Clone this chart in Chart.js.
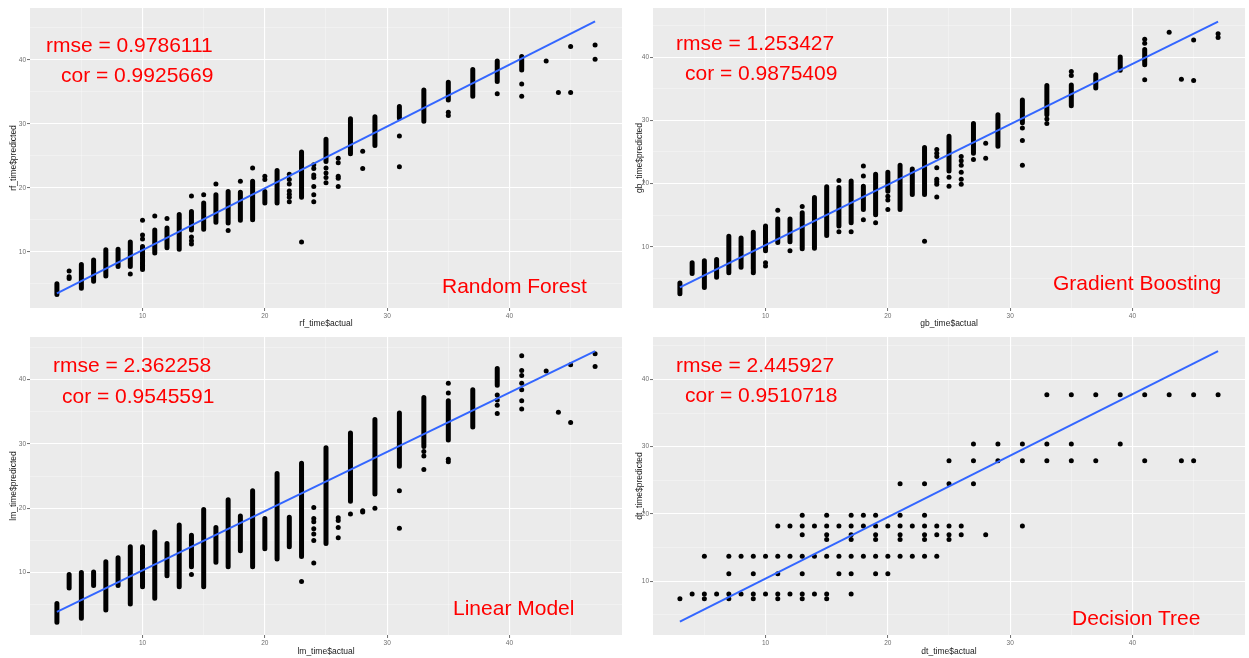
<!DOCTYPE html>
<html lang="en">
<head>
<meta charset="UTF-8" />
<title>Actual vs predicted time</title>
<script src="https://cdn.jsdelivr.net/npm/chart.js"></script>
<style>
  body { margin: 0; background: #fff; width: 1249px; height: 658px; position: relative; overflow: hidden;
         font-family: "Liberation Sans", Arial, sans-serif; }
  canvas { position: absolute; }
  .note { position: absolute; color: #ff0000; font-size: 21px; line-height: 21px; white-space: nowrap; }
</style>
</head>
<body>
<canvas id="rf" width="626" height="330" style="left:0;top:0"></canvas>
<canvas id="gb" width="623" height="330" style="left:626px;top:0"></canvas>
<canvas id="lm" width="626" height="328" style="left:0;top:330px"></canvas>
<canvas id="dt" width="623" height="328" style="left:626px;top:330px"></canvas>

<div class="note" style="left:46px;top:34px">rmse = 0.9786111</div>
<div class="note" style="left:61px;top:64px">cor = 0.9925669</div>
<div class="note" style="left:442px;top:275px">Random Forest</div>

<div class="note" style="left:676px;top:32px">rmse = 1.253427</div>
<div class="note" style="left:685px;top:62px">cor = 0.9875409</div>
<div class="note" style="left:1053px;top:272px">Gradient Boosting</div>

<div class="note" style="left:53px;top:354px">rmse = 2.362258</div>
<div class="note" style="left:62px;top:385px">cor = 0.9545591</div>
<div class="note" style="left:453px;top:597px">Linear Model</div>

<div class="note" style="left:676px;top:354px">rmse = 2.445927</div>
<div class="note" style="left:685px;top:384px">cor = 0.9510718</div>
<div class="note" style="left:1072px;top:607px">Decision Tree</div>

<script>
  // tick positions (labels only on multiples of 10)
  const xTicks = [5, 10, 15, 20, 25, 30, 35, 40, 45];
  const yTicks = [5, 10, 15, 20, 25, 30, 35, 40, 45];

  // dense columns of points: [actual, lowest predicted, highest predicted]
  // single points: [actual, predicted]
  // fit: the two ends of the blue smooth line

  // Random Forest
  const rfRuns = [
    [3, 3.3, 5.0], [5, 4.3, 8.0], [6, 5.4, 8.7], [7, 6.2, 10.3], [8, 7.7, 10.4],
    [9, 7.7, 11.5], [10, 7.2, 10.8], [11, 9.8, 13.4], [12, 10.6, 13.7], [13, 10.4, 15.8],
    [14, 13.4, 16.3], [15, 13.5, 17.6], [16, 14.6, 18.9], [17, 14.5, 19.4], [18, 14.9, 19.3],
    [19, 15.0, 21.0], [20, 17.6, 19.4], [21, 17.6, 22.7], [23, 18.5, 25.6], [25, 24.1, 27.6],
    [27, 25.3, 30.8], [29, 26.6, 31.1], [31, 30.9, 32.7], [33, 30.4, 35.3], [35, 33.7, 36.5],
    [37, 34.3, 38.5], [39, 36.6, 39.8], [41, 38.4, 40.5]
  ];
  const rfPoints = [
    [4, 7.0], [4, 6.1], [4, 5.8], [9, 6.5], [10, 14.9], [10, 12.6], [10, 12.0], [11, 15.6],
    [12, 15.2], [14, 18.7], [14, 12.3], [14, 11.7], [14, 11.2], [15, 18.9], [16, 20.6],
    [17, 13.3], [18, 21.0], [19, 23.1], [20, 21.8], [20, 21.3], [22, 22.1], [22, 21.3],
    [22, 20.6], [22, 19.5], [22, 19.0], [22, 18.5], [22, 17.8], [23, 11.5], [24, 23.6],
    [24, 23.0], [24, 22.0], [24, 21.6], [24, 20.2], [24, 18.9], [24, 17.8], [25, 23.1],
    [25, 22.3], [25, 21.6], [25, 20.8], [26, 24.6], [26, 23.9], [26, 21.8], [26, 21.5],
    [26, 20.2], [28, 25.7], [28, 23.0], [31, 28.1], [31, 23.3], [35, 31.8], [35, 31.3],
    [39, 34.7], [41, 36.2], [41, 34.3], [43, 39.8], [44, 34.9], [45, 42.1], [45, 34.9],
    [47, 42.3], [47, 40.1]
  ];
  const rfFit = [[3, 3.5], [47, 46.0]];

  // Gradient Boosting
  const gbRuns = [
    [3, 2.6, 4.3], [4, 5.8, 7.5], [5, 3.6, 7.8], [6, 5.2, 8.0], [7, 5.9, 11.7],
    [8, 6.8, 11.4], [9, 6.5, 12.3], [10, 9.4, 13.3], [11, 10.7, 14.4], [12, 10.8, 14.4],
    [13, 9.7, 15.4], [14, 9.8, 17.8], [15, 11.8, 19.5], [16, 13.3, 19.4], [17, 13.8, 20.4],
    [18, 15.9, 19.6], [19, 15.1, 21.5], [20, 18.8, 21.8], [21, 15.9, 22.9], [22, 18.3, 22.3],
    [23, 18.3, 25.7], [25, 22.0, 27.5], [27, 24.8, 29.5], [29, 25.9, 30.9], [31, 29.6, 33.2],
    [33, 30.9, 35.5], [35, 32.3, 35.6], [37, 35.1, 37.2], [39, 37.9, 40.0], [41, 38.8, 41.2]
  ];
  const gbPoints = [
    [9, 5.9], [9, 6.2], [10, 7.5], [10, 7.0], [11, 15.8], [12, 9.4], [13, 16.4], [16, 20.5],
    [16, 12.4], [17, 12.4], [18, 22.8], [18, 21.2], [18, 14.3], [19, 13.8], [20, 18.0],
    [20, 17.4], [20, 15.9], [23, 10.9], [24, 25.4], [24, 24.8], [24, 24.3], [24, 22.5],
    [24, 20.7], [24, 20.3], [24, 19.9], [24, 17.9], [25, 21.0], [25, 19.6], [26, 24.3],
    [26, 23.6], [26, 22.9], [26, 21.8], [26, 20.7], [26, 19.9], [27, 23.8], [28, 26.4],
    [28, 24.0], [31, 28.8], [31, 26.8], [31, 22.9], [33, 30.2], [33, 29.5], [35, 37.7],
    [35, 37.1], [41, 42.8], [41, 42.2], [41, 36.4], [43, 43.9], [44, 36.5], [45, 42.7],
    [45, 36.3], [47, 43.7], [47, 43.1]
  ];
  const gbFit = [[3, 3.6], [47, 45.6]];

  // Linear Model
  const lmRuns = [
    [3, 2.3, 5.2], [4, 7.6, 9.7], [5, 2.9, 10.0], [6, 8.0, 10.1], [7, 4.2, 11.7],
    [8, 8.0, 12.3], [9, 5.1, 14.0], [10, 7.8, 14.0], [11, 6.0, 16.3], [12, 9.5, 14.5],
    [13, 7.8, 17.4], [14, 10.9, 15.8], [15, 7.8, 19.8], [16, 11.6, 17.0], [17, 10.9, 21.3],
    [18, 13.4, 18.8], [19, 10.9, 22.7], [20, 13.7, 18.4], [21, 12.1, 25.4], [22, 14.0, 18.6],
    [23, 12.5, 27.0], [25, 14.5, 29.4], [27, 21.1, 31.7], [29, 22.2, 33.8], [31, 26.5, 34.8],
    [33, 29.6, 37.2], [35, 30.6, 36.7], [37, 32.6, 38.4], [39, 39.1, 41.7]
  ];
  const lmPoints = [
    [14, 9.7], [23, 8.6], [24, 20.1], [24, 18.4], [24, 17.9], [24, 16.8], [24, 16.0],
    [24, 15.0], [24, 11.5], [26, 18.5], [26, 18.1], [26, 17.0], [26, 15.4], [27, 19.1],
    [28, 19.6], [28, 19.4], [29, 20.0], [31, 22.7], [31, 16.9], [33, 28.8], [33, 28.1],
    [33, 26.0], [35, 39.4], [35, 37.9], [35, 27.6], [35, 27.2], [39, 37.6], [39, 36.8],
    [39, 36.0], [39, 34.7], [41, 43.7], [41, 41.4], [41, 40.6], [41, 39.4], [41, 38.4],
    [41, 36.7], [41, 35.4], [43, 41.3], [44, 34.9], [45, 42.3], [45, 33.3], [47, 44.0],
    [47, 42.0]
  ];
  const lmFit = [[3, 3.9], [47, 44.4]];

  // Decision Tree (predictions fall on a few levels)
  const dtRuns = [];
  const dtPoints = [
    [3, 7.4], [4, 8.1], [5, 13.7], [5, 8.1], [5, 7.4], [6, 8.1],
    [7, 13.7], [7, 11.1], [7, 8.1], [7, 7.4], [8, 13.7], [8, 8.1],
    [9, 13.7], [9, 11.1], [9, 8.1], [9, 7.4], [10, 13.7], [10, 8.1],
    [11, 18.2], [11, 13.7], [11, 11.1], [11, 8.1], [11, 7.4], [12, 18.2], [12, 13.7], [12, 8.1],
    [13, 19.8], [13, 18.2], [13, 16.9], [13, 13.7], [13, 11.1], [13, 8.1], [13, 7.4],
    [14, 18.2], [14, 13.7], [14, 8.1],
    [15, 19.8], [15, 18.2], [15, 16.9], [15, 16.2], [15, 13.7], [15, 8.1], [15, 7.4],
    [16, 18.2], [16, 13.7], [16, 11.1],
    [17, 19.8], [17, 18.2], [17, 16.9], [17, 16.2], [17, 13.7], [17, 11.1], [17, 8.1],
    [18, 19.8], [18, 18.2], [18, 13.7],
    [19, 19.8], [19, 18.2], [19, 16.9], [19, 16.2], [19, 13.7], [19, 11.1],
    [20, 18.2], [20, 13.7], [20, 11.1],
    [21, 24.5], [21, 19.8], [21, 18.2], [21, 16.9], [21, 16.2], [21, 13.7],
    [22, 18.2], [22, 13.7],
    [23, 24.5], [23, 19.8], [23, 18.2], [23, 16.9], [23, 16.2], [23, 13.7],
    [24, 18.2], [24, 16.9], [24, 13.7],
    [25, 27.9], [25, 24.5], [25, 18.2], [25, 16.9], [25, 16.2],
    [26, 18.2], [26, 16.9], [27, 30.4], [27, 27.9], [27, 24.5], [28, 16.9],
    [29, 30.4], [29, 27.9], [31, 30.4], [31, 27.9], [31, 18.2],
    [33, 37.7], [33, 30.4], [33, 27.9], [35, 37.7], [35, 30.4], [35, 27.9],
    [37, 37.7], [37, 27.9], [39, 37.7], [39, 30.4], [41, 37.7], [41, 27.9],
    [43, 37.7], [44, 27.9], [45, 37.7], [45, 27.9], [47, 37.7]
  ];
  const dtFit = [[3, 4.0], [47, 44.2]];

  const fontFamily = '"Liberation Sans", Arial, sans-serif';

  const panelBg = {
    id: "panelBg",
    beforeDraw(chart) {
      const { ctx, chartArea: a } = chart;
      ctx.save();
      ctx.fillStyle = "#ebebeb";
      ctx.fillRect(a.left, a.top, a.right - a.left, a.bottom - a.top);
      ctx.restore();
    },
  };

  function runData(runs) {
    const out = [];
    runs.forEach(([x, lo, hi]) => {
      out.push({ x: x, y: lo }, { x: x, y: hi }, { x: x, y: null });
    });
    return out;
  }

  function isMajor(ctx) {
    return ctx.tick && ctx.tick.value % 10 === 0;
  }

  function axis(range, tickList, title, size, titlePad) {
    return {
      type: "linear",
      min: range[0],
      max: range[1],
      afterBuildTicks: (s) => { s.ticks = tickList.map((v) => ({ value: v })); },
      afterFit: (s) => {
        if (s.isHorizontal()) s.height = size;
        else s.width = size;
      },
      ticks: {
        autoSkip: false,
        maxRotation: 0,
        padding: 1,
        color: "#6e6e6e",
        font: { size: 6.5, family: fontFamily },
        callback: (v) => (v % 10 === 0 ? v : ""),
      },
      grid: {
        color: (ctx) => (isMajor(ctx) ? "#ffffff" : "rgba(255,255,255,0.6)"),
        lineWidth: (ctx) => (isMajor(ctx) ? 1.1 : 0.5),
        tickColor: (ctx) => (isMajor(ctx) ? "#6e6e6e" : "rgba(0,0,0,0)"),
        tickLength: 3,
        tickWidth: 1,
      },
      border: { display: false },
      title: {
        display: true,
        text: title,
        color: "#1a1a1a",
        font: { size: 8.5, family: fontFamily },
        padding: titlePad,
      },
    };
  }

  function drawPanel(id, runs, points, fit, yRange, xTitle, yTitle, box) {
    new Chart(document.getElementById(id), {
      type: "scatter",
      data: {
        datasets: [
          {
            type: "line",
            data: fit.map(([x, y]) => ({ x, y })),
            borderColor: "#3366ff",
            borderWidth: 2,
            pointRadius: 0,
          },
          {
            type: "line",
            data: runData(runs),
            borderColor: "#000000",
            borderWidth: 5,
            borderCapStyle: "round",
            borderJoinStyle: "round",
            spanGaps: false,
            pointRadius: 0,
          },
          {
            data: points.map(([x, y]) => ({ x, y })),
            backgroundColor: "#000000",
            borderWidth: 0,
            pointRadius: 2.5,
          },
        ],
      },
      options: {
        responsive: false,
        animation: false,
        events: [],
        layout: { padding: { top: box.top, right: box.right, left: 0, bottom: 0 } },
        plugins: { legend: { display: false }, tooltip: { enabled: false } },
        scales: {
          x: axis([0.8, 49.2], xTicks, xTitle, box.xh, { top: 0, bottom: 1 }),
          y: axis(yRange, yTicks, yTitle, box.yw, { top: 8.9, bottom: 0 }),
        },
      },
      plugins: [panelBg],
    });
  }

  drawPanel("rf", rfRuns, rfPoints, rfFit, [1.2, 48.1], "rf_time$actual", "rf_time$predicted",
    { top: 8, right: 1, xh: 22, yw: 30 });
  drawPanel("gb", gbRuns, gbPoints, gbFit, [0.35, 47.75], "gb_time$actual", "gb_time$predicted",
    { top: 8, right: 4, xh: 22, yw: 27 });
  drawPanel("lm", lmRuns, lmPoints, lmFit, [0.3, 46.6], "lm_time$actual", "lm_time$predicted",
    { top: 7, right: 1, xh: 23, yw: 30 });
  drawPanel("dt", dtRuns, dtPoints, dtFit, [2.0, 46.3], "dt_time$actual", "dt_time$predicted",
    { top: 7, right: 4, xh: 23, yw: 27 });
</script>
</body>
</html>
